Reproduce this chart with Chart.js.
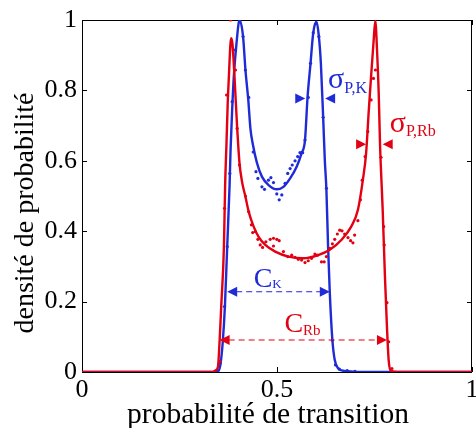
<!DOCTYPE html>
<html><head><meta charset="utf-8">
<script src="https://cdn.jsdelivr.net/npm/chart.js@4/dist/chart.umd.min.js"></script>
<style>html,body{margin:0;padding:0;background:#fff}canvas{display:block}</style>
</head><body>
<canvas id="c" width="476" height="428"></canvas>
<script>
// ---- data ----
const xTickValues = [0, 0.5, 1];
const yTickValues = [0, 0.2, 0.4, 0.6, 0.8, 1];
const xTitle = "probabilité de transition";
const yTitle = "densité de probabilité";

// fitted curve, K (blue)
const kFitX = [0, 0.338, 0.346, 0.351, 0.3555, 0.3613, 0.3664, 0.3723, 0.3784, 0.3809, 0.385, 0.3893, 0.3962, 0.4038, 0.413, 0.4191, 0.4262, 0.432, 0.4384, 0.4486, 0.4613, 0.4784, 0.4995, 0.5165, 0.5336, 0.5504, 0.5631, 0.5718, 0.5784, 0.586, 0.5929, 0.6013, 0.6074, 0.6125, 0.6183, 0.6226, 0.6267, 0.631, 0.6354, 0.642, 0.6481, 0.6565, 0.6735, 0.695, 0.72, 1];
const kFitY = [0, 0, 0.002, 0.005, 0.025, 0.091, 0.186, 0.356, 0.53, 0.63, 0.744, 0.84, 0.934, 1.0, 0.953, 0.858, 0.775, 0.69, 0.645, 0.594, 0.555, 0.531, 0.519, 0.526, 0.55, 0.583, 0.622, 0.659, 0.782, 0.877, 0.963, 0.995, 0.953, 0.877, 0.725, 0.602, 0.517, 0.356, 0.224, 0.091, 0.034, 0.011, 0.003, 0.001, 0, 0];

// fitted curve, Rb (red)
const rbFitX = [0, 0.3359, 0.3427, 0.3486, 0.3529, 0.357, 0.3639, 0.367, 0.3705, 0.3735, 0.3766, 0.3805, 0.3824, 0.386, 0.391, 0.3977, 0.4038, 0.4104, 0.4191, 0.4275, 0.4402, 0.4529, 0.47, 0.4954, 0.5293, 0.5674, 0.6056, 0.6354, 0.6649, 0.6903, 0.7074, 0.7201, 0.7285, 0.7354, 0.7412, 0.7473, 0.7524, 0.7557, 0.7608, 0.7641, 0.771, 0.7768, 0.7819, 0.7863, 0.7921, 0.81, 1];
const rbFitY = [0, 0, 0.005, 0.015, 0.09, 0.186, 0.356, 0.53, 0.65, 0.76, 0.839, 0.93, 0.948, 0.93, 0.839, 0.697, 0.594, 0.54, 0.498, 0.455, 0.413, 0.384, 0.361, 0.342, 0.328, 0.323, 0.332, 0.347, 0.375, 0.413, 0.46, 0.545, 0.622, 0.744, 0.839, 0.934, 1.0, 0.934, 0.792, 0.65, 0.46, 0.271, 0.129, 0.034, 0.003, 0, 0];

// measured points, K (blue)
const kDotX = [0.3537, 0.3656, 0.3723, 0.379, 0.385, 0.3936, 0.404, 0.413, 0.419, 0.4275, 0.439, 0.4461, 0.451, 0.4614, 0.468, 0.478, 0.4843, 0.491, 0.4995, 0.5056, 0.5123, 0.5208, 0.5275, 0.5336, 0.539, 0.5463, 0.553, 0.559, 0.5657, 0.5718, 0.5802, 0.586, 0.5929, 0.6, 0.6074, 0.6183, 0.6267, 0.642, 0.65, 0.66, 0.68, 0.7];
const kDotY = [0.025, 0.186, 0.356, 0.564, 0.768, 0.915, 1.0, 0.953, 0.858, 0.78, 0.625, 0.569, 0.55, 0.526, 0.519, 0.545, 0.552, 0.538, 0.506, 0.489, 0.503, 0.536, 0.564, 0.578, 0.588, 0.6, 0.612, 0.623, 0.623, 0.659, 0.78, 0.877, 0.964, 0.99, 0.953, 0.7235, 0.522, 0.09, 0.02, 0.008, 0.004, 0.002];

// measured points, Rb (red)
const rbDotX = [0.3537, 0.3656, 0.3707, 0.381, 0.3936, 0.3977, 0.4038, 0.4191, 0.4275, 0.4343, 0.4377, 0.4445, 0.451, 0.457, 0.463, 0.4715, 0.4826, 0.491, 0.4995, 0.5056, 0.491, 0.5165, 0.5275, 0.5377, 0.5463, 0.5547, 0.5631, 0.5718, 0.5802, 0.5885, 0.5972, 0.6038, 0.614, 0.6209, 0.6267, 0.6354, 0.642, 0.648, 0.6547, 0.6608, 0.6667, 0.6735, 0.682, 0.6887, 0.6947, 0.699, 0.7074, 0.714, 0.7185, 0.726, 0.7328, 0.7412, 0.7473, 0.7524, 0.7667, 0.7735, 0.775, 0.7819, 0.7863, 0.7947];
const rbDotY = [0.03, 0.465, 0.787, 1.0, 0.858, 0.692, 0.588, 0.5, 0.455, 0.418, 0.396, 0.399, 0.377, 0.361, 0.354, 0.37, 0.377, 0.38, 0.377, 0.373, 0.358, 0.342, 0.328, 0.332, 0.326, 0.32, 0.318, 0.311, 0.316, 0.323, 0.335, 0.332, 0.313, 0.313, 0.328, 0.351, 0.364, 0.377, 0.392, 0.403, 0.401, 0.392, 0.382, 0.373, 0.367, 0.389, 0.43, 0.489, 0.545, 0.612, 0.683, 0.773, 0.834, 0.858, 0.61, 0.413, 0.361, 0.197, 0.086, 0.01];

// annotation anchors in data units
const sigmaK = {x1: 0.5725, x2: 0.6234, y: 0.777, textX: 0.631, textY: 0.807};
const sigmaRb = {x1: 0.7285, x2: 0.771, y: 0.647, textX: 0.789, textY: 0.683};
const widthK = {x1: 0.3723, x2: 0.6354, y: 0.228, textX: 0.4402, textY: 0.2415};
const widthRb = {x1: 0.3529, x2: 0.7819, y: 0.0909, textX: 0.519, textY: 0.114};

const BLUE = '#1f2bd6';
const RED = '#e20012';
const SERIF = '"Liberation Serif", "Times New Roman", serif';

const zip = (xs, ys) => xs.map((x, i) => ({x: x, y: ys[i]}));

const decor = {
  id: 'decor',
  beforeDatasetsDraw(chart) {
    const ctx = chart.ctx, a = chart.chartArea;
    const xs = chart.scales.x, ys = chart.scales.y;
    ctx.save();
    ctx.strokeStyle = '#000';
    ctx.lineWidth = 1;
    ctx.strokeRect(Math.round(a.left) + 0.5, Math.round(a.top) + 0.5, Math.round(a.right - a.left) - 1, Math.round(a.bottom - a.top));
    ctx.beginPath();
    yTickValues.forEach(v => {
      const py = Math.round(ys.getPixelForValue(v)) + 0.5;
      ctx.moveTo(a.left, py); ctx.lineTo(a.left + 5, py);
      ctx.moveTo(a.right, py); ctx.lineTo(a.right - 5, py);
    });
    xTickValues.forEach(v => {
      const px = Math.round(xs.getPixelForValue(v)) + 0.5;
      ctx.moveTo(px, a.bottom); ctx.lineTo(px, a.bottom - 5);
      ctx.moveTo(px, a.top); ctx.lineTo(px, a.top + 5);
    });
    ctx.stroke();
    ctx.restore();
  },
  afterDatasetsDraw(chart) {
    const ctx = chart.ctx, a = chart.chartArea;
    const xs = chart.scales.x, ys = chart.scales.y;
    const X = v => xs.getPixelForValue(v), Y = v => ys.getPixelForValue(v);
    ctx.save();
    // titles
    ctx.fillStyle = '#000';
    ctx.textAlign = 'center';
    ctx.textBaseline = 'alphabetic';
    ctx.font = '29.5px ' + SERIF;
    ctx.fillText(xTitle, (a.left + a.right) / 2 - 9, a.bottom + 51);
    ctx.font = '28px ' + SERIF;
    ctx.save();
    ctx.translate(a.left - 49, (a.top + a.bottom) / 2 + 17);
    ctx.rotate(-Math.PI / 2);
    ctx.fillText(yTitle, 0, 0);
    ctx.restore();

    function tri(tipX, y, dir, color, w, h) {
      ctx.fillStyle = color;
      ctx.beginPath();
      ctx.moveTo(tipX, y);
      ctx.lineTo(tipX - dir * w, y - h / 2);
      ctx.lineTo(tipX - dir * w, y + h / 2);
      ctx.closePath();
      ctx.fill();
    }
    function label(main, sub, x, y, color, mainSize, subSize, subDy) {
      ctx.fillStyle = color;
      ctx.textAlign = 'left';
      ctx.textBaseline = 'alphabetic';
      ctx.font = mainSize + 'px ' + SERIF;
      ctx.fillText(main, x, y);
      const w = ctx.measureText(main).width;
      ctx.font = subSize + 'px ' + SERIF;
      ctx.fillText(sub, x + w, y + subDy);
    }
    // sigma markers
    tri(X(sigmaK.x1), Y(sigmaK.y), 1, BLUE, 10, 10);
    tri(X(sigmaK.x2), Y(sigmaK.y), -1, BLUE, 10, 10);
    label('σ', 'P,K', X(sigmaK.textX), Y(sigmaK.textY), BLUE, 30, 16, 5);
    tri(X(sigmaRb.x1), Y(sigmaRb.y), 1, RED, 10, 10);
    tri(X(sigmaRb.x2), Y(sigmaRb.y), -1, RED, 10, 10);
    label('σ', 'P,Rb', X(sigmaRb.textX), Y(sigmaRb.textY), RED, 30, 16, 4);
    // width arrows
    function arrow(o, color) {
      const x1 = X(o.x1), x2 = X(o.x2), y = Y(o.y);
      ctx.strokeStyle = color;
      ctx.lineWidth = 1;
      ctx.setLineDash([6, 4]);
      ctx.beginPath();
      ctx.moveTo(x1 + 9, y); ctx.lineTo(x2 - 9, y);
      ctx.stroke();
      ctx.setLineDash([]);
      tri(x1, y, -1, color, 10, 10);
      tri(x2, y, 1, color, 10, 10);
    }
    arrow(widthK, BLUE);
    label('C', 'K', X(widthK.textX), Y(widthK.textY), BLUE, 28, 13, 1);
    arrow(widthRb, RED);
    label('C', 'Rb', X(widthRb.textX), Y(widthRb.textY), RED, 28, 15, 3);
    ctx.restore();
  }
};

new Chart(document.getElementById('c'), {
  type: 'scatter',
  data: {
    datasets: [
      {label: 'Rb mesure', data: zip(rbDotX, rbDotY), showLine: false, pointRadius: 1.6, pointBorderWidth: 0, pointBackgroundColor: RED, borderColor: RED},
      {label: 'Rb ajustement', data: zip(rbFitX, rbFitY), showLine: true, pointRadius: 0, borderColor: RED, borderWidth: 2.4, cubicInterpolationMode: 'monotone'},
      {label: 'K mesure', data: zip(kDotX, kDotY), showLine: false, pointRadius: 1.6, pointBorderWidth: 0, pointBackgroundColor: BLUE, borderColor: BLUE},
      {label: 'K ajustement', data: zip(kFitX, kFitY), showLine: true, pointRadius: 0, borderColor: BLUE, borderWidth: 2.4, cubicInterpolationMode: 'monotone'}
    ]
  },
  options: {
    responsive: false,
    animation: false,
    devicePixelRatio: 1,
    layout: {padding: {left: 0, top: 20, right: 1, bottom: 0}},
    plugins: {legend: {display: false}, tooltip: {enabled: false}},
    scales: {
      x: {
        type: 'linear', min: 0, max: 1,
        grid: {display: false, drawTicks: false},
        border: {display: false},
        afterBuildTicks: s => { s.ticks = xTickValues.map(v => ({value: v})); },
        ticks: {color: '#000', padding: 3, maxRotation: 0, autoSkip: false, font: {family: SERIF, size: 26},
          callback: v => String(v)},
        afterFit: s => { s.height = 56; s.paddingLeft = 0; s.paddingRight = 0; }
      },
      y: {
        type: 'linear', min: 0, max: 1,
        grid: {display: false, drawTicks: false},
        border: {display: false},
        afterBuildTicks: s => { s.ticks = yTickValues.map(v => ({value: v})); },
        ticks: {color: '#000', padding: 5, autoSkip: false, font: {family: SERIF, size: 26},
          callback: v => String(v)},
        afterFit: s => { s.width = 82; s.paddingTop = 0; s.paddingBottom = 0; }
      }
    }
  },
  plugins: [decor]
});
</script>
</body></html>
